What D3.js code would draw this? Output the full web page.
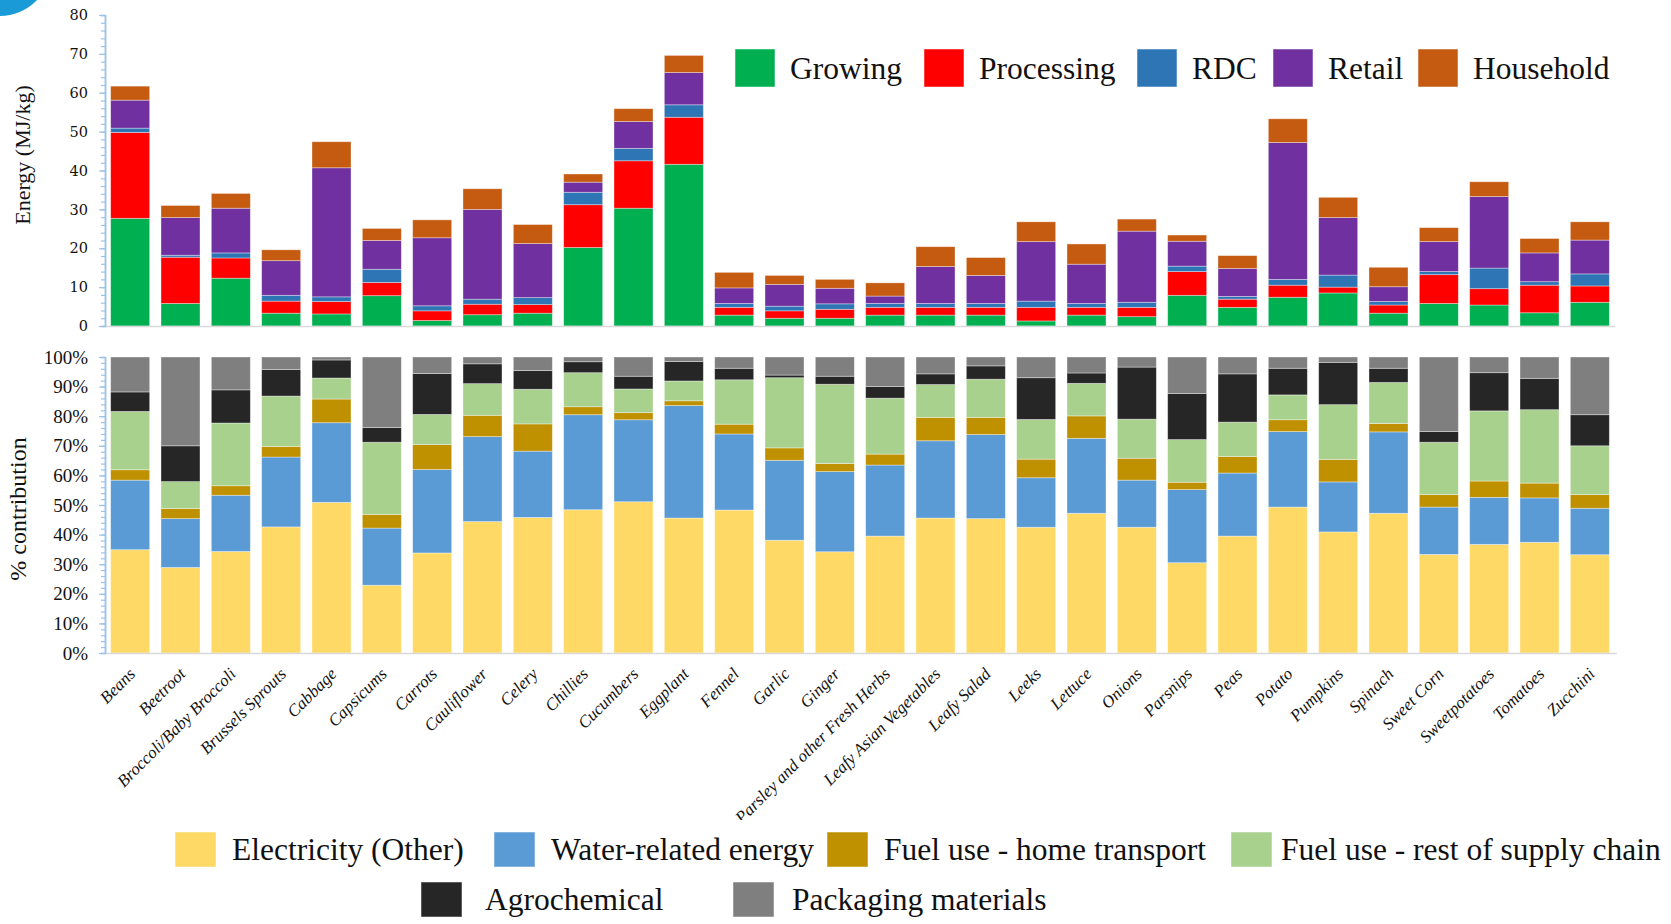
<!DOCTYPE html>
<html>
<head>
<meta charset="utf-8">
<script src="https://cdn.jsdelivr.net/npm/d3@7"></script>
<style>
  html, body { margin: 0; padding: 0; background: #fff; }
  svg { display: block; }
</style>
</head>
<body>
<script>
// ---------------- DATA ----------------
const categories = ["Beans","Beetroot","Broccoli/Baby Broccoli","Brussels Sprouts","Cabbage","Capsicums","Carrots","Cauliflower","Celery","Chillies","Cucumbers","Eggplant","Fennel","Garlic","Ginger","Parsley and other Fresh Herbs","Leafy Asian Vegetables","Leafy Salad","Leeks","Lettuce","Onions","Parsnips","Peas","Potato","Pumpkins","Spinach","Sweet Corn","Sweetpotatoes","Tomatoes","Zucchini"];

// Energy (MJ/kg) by supply-chain stage
const stageNames = ["Growing","Processing","RDC","Retail","Household"];
const growing    = [27.7, 5.8,12.3, 3.3, 3.1, 7.8, 1.4, 2.9, 3.3,20.2,30.3,41.6, 2.8, 2.0, 2.0, 2.8, 2.8, 2.8, 1.3, 2.8, 2.4, 7.9, 4.8, 7.4, 8.5, 3.3, 5.8, 5.4, 3.4, 6.1];
const processing = [22.1,11.9, 5.2, 3.1, 3.2, 3.4, 2.5, 2.7, 2.2,11.0,12.2,12.1, 2.0, 1.9, 2.3, 2.0, 2.0, 2.0, 3.5, 2.0, 2.4, 6.1, 2.1, 3.1, 1.5, 2.1, 7.4, 4.2, 7.1, 4.2];
const rdc        = [ 1.1, 0.5, 1.3, 1.5, 1.2, 3.4, 1.3, 1.3, 1.8, 3.2, 3.2, 3.2, 1.0, 1.2, 1.4, 1.0, 1.0, 1.0, 1.6, 1.0, 1.3, 1.4, 0.7, 1.5, 3.1, 0.9, 0.8, 5.3, 0.9, 3.1];
const retail     = [ 7.2, 9.7,11.5, 8.9,33.2, 7.4,17.5,23.1,13.9, 2.6, 6.9, 8.3, 4.0, 5.6, 4.0, 1.9, 9.5, 7.2,15.3,10.1,18.3, 6.4, 7.2,35.2,14.8, 3.8, 7.7,18.4, 7.4, 8.7];
const household  = [ 3.6, 3.1, 3.8, 2.8, 6.7, 3.1, 4.6, 5.3, 4.9, 2.1, 3.3, 4.4, 4.0, 2.3, 2.3, 3.4, 5.1, 4.6, 5.1, 5.2, 3.1, 1.6, 3.3, 6.1, 5.2, 5.0, 3.6, 3.8, 3.7, 4.7];

// % contribution by energy source
const sourceNames = ["Electricity (Other)","Water-related energy","Fuel use - home transport","Fuel use - rest of supply chain","Agrochemical","Packaging materials"];
const electricity = [34.9,28.9,34.3,42.6,50.9,22.9,33.8,44.4,45.8,48.4,51.1,45.6,48.3,38.1,34.2,39.5,45.6,45.4,42.5,47.2,42.5,30.5,39.5,49.3,40.9,47.2,33.3,36.7,37.4,33.2];
const water       = [23.5,16.5,19.0,23.6,26.9,19.3,28.2,28.7,22.4,32.1,27.7,38.0,25.7,27.0,27.1,24.0,26.1,28.4,16.7,25.3,15.9,24.7,21.3,25.5,16.9,27.5,16.0,15.9,15.0,15.7];
const fuelHome    = [ 3.5, 3.4, 3.2, 3.6, 8.0, 4.6, 8.4, 7.2, 9.2, 2.7, 2.4, 1.6, 3.3, 4.2, 2.7, 3.7, 7.9, 5.8, 6.3, 7.6, 7.4, 2.5, 5.6, 4.0, 7.6, 2.8, 4.2, 5.5, 5.0, 4.6];
const fuelRest    = [19.7, 9.1,21.2,17.0, 7.1,24.4,10.2,10.7,11.7,11.5, 8.0, 6.7,15.0,23.7,26.8,18.9,11.1,12.9,13.4,11.0,13.2,14.4,11.6, 8.4,18.5,13.9,17.7,23.7,24.8,16.5];
const agro        = [ 6.6,12.1,11.2, 9.0, 6.1, 5.0,13.8, 6.7, 6.3, 3.7, 4.3, 6.6, 3.9, 0.9, 2.7, 3.9, 3.6, 4.5,14.1, 3.5,17.6,15.6,16.3, 9.0,14.3, 4.8, 3.6,12.9,10.6,10.5];
const packaging   = [11.8,30.0,11.1, 4.2, 1.0,23.8, 5.6, 2.3, 4.6, 1.6, 6.5, 1.5, 3.8, 6.1, 6.5,10.0, 5.7, 3.0, 7.0, 5.4, 3.4,12.3, 5.7, 3.8, 1.8, 3.8,25.2, 5.3, 7.2,19.5];

const energyTicks = [0,10,20,30,40,50,60,70,80];
const pctTicks = [0,10,20,30,40,50,60,70,80,90,100];

// ---------------- STYLE ----------------
const stageColors  = ["#00b050","#ff0000","#2e75b6","#7030a0","#c55a11"];
const sourceColors = ["#ffd966","#5b9bd5","#bf9000","#a9d18e","#262626","#7f7f7f"];
const W = 1671, H = 924;
const serif = "'Liberation Serif','Times New Roman',serif";
const axisBlue = "#9dc3e6";
const baseGray = "#d9d9d9";

const svg = d3.select("body").append("svg").attr("width", W).attr("height", H);

// decorative teal corner (slide artefact)
svg.append("circle").attr("cx", 0).attr("cy", -35).attr("r", 51).attr("fill", "#1a9bd7");

const x = d3.scaleBand().domain(categories).range([105, 1615]).paddingInner(0.225).paddingOuter(0.1125);

// ---------------- TOP CHART ----------------
const yTop = d3.scaleLinear().domain([0, 80]).range([326, 15]);
const topRows = categories.map((c, i) => ({cat: c, Growing: growing[i], Processing: processing[i], RDC: rdc[i], Retail: retail[i], Household: household[i]}));
const topStack = d3.stack().keys(stageNames)(topRows);

const gTop = svg.append("g");
gTop.selectAll("g.series").data(topStack).join("g")
  .attr("fill", (d, i) => stageColors[i])
  .selectAll("rect").data(d => d).join("rect")
  .attr("x", d => x(d.data.cat))
  .attr("width", x.bandwidth())
  .attr("y", d => yTop(d[1]))
  .attr("height", d => yTop(d[0]) - yTop(d[1]))
  .attr("stroke", "#ffffff").attr("stroke-opacity", 0.45).attr("stroke-width", 0.8);

// baseline
svg.append("line").attr("x1", 105).attr("x2", 1615).attr("y1", yTop(0) + 0.5).attr("y2", yTop(0) + 0.5)
  .attr("stroke", baseGray).attr("stroke-width", 1.5);

function styleAxis(g) {
  g.select(".domain").attr("stroke", axisBlue).attr("stroke-width", 1.5);
  g.selectAll(".tick line").attr("stroke", axisBlue).attr("stroke-width", 1.2);
}
// minor ticks
const topMinor = svg.append("g").attr("transform", "translate(105,0)")
  .call(d3.axisLeft(yTop).tickValues(d3.range(0, 81, 2)).tickSize(4).tickFormat(""));
styleAxis(topMinor);
const topMajor = svg.append("g").attr("transform", "translate(105,0)")
  .call(d3.axisLeft(yTop).tickValues(energyTicks).tickSize(6).tickPadding(11).tickSizeOuter(0));
styleAxis(topMajor);
topMajor.selectAll(".tick text").attr("font-family", "'DejaVu Serif',serif").attr("font-size", 14.5).attr("fill", "#111");

svg.append("text").attr("transform", "translate(30,155) rotate(-90)")
  .attr("text-anchor", "middle").attr("font-family", serif).attr("font-size", 22).attr("fill", "#111")
  .text("Energy (MJ/kg)");

// top legend
const topLegX = [735, 924, 1137, 1273, 1418];
const topLeg = svg.append("g");
stageNames.forEach((n, i) => {
  topLeg.append("rect").attr("x", topLegX[i]).attr("y", 49).attr("width", 40).attr("height", 38)
    .attr("fill", stageColors[i]).attr("stroke", "#fff").attr("stroke-opacity", 0.5);
  topLeg.append("text").attr("x", topLegX[i] + 55).attr("y", 79)
    .attr("font-family", serif).attr("font-size", 31.5).attr("fill", "#111").text(n);
});

// ---------------- BOTTOM CHART ----------------
const yBot = d3.scaleLinear().domain([0, 100]).range([653, 357]);
const botRows = categories.map((c, i) => {
  const r = {cat: c};
  [electricity, water, fuelHome, fuelRest, agro, packaging].forEach((arr, k) => r[sourceNames[k]] = arr[i]);
  return r;
});
const botStack = d3.stack().keys(sourceNames)(botRows);
svg.append("g").selectAll("g.series").data(botStack).join("g")
  .attr("fill", (d, i) => sourceColors[i])
  .selectAll("rect").data(d => d).join("rect")
  .attr("x", d => x(d.data.cat))
  .attr("width", x.bandwidth())
  .attr("y", d => yBot(Math.min(100, d[1])))
  .attr("height", d => yBot(d[0]) - yBot(Math.min(100, d[1])))
  .attr("stroke", "#ffffff").attr("stroke-opacity", 0.45).attr("stroke-width", 0.8);

svg.append("line").attr("x1", 105).attr("x2", 1617).attr("y1", yBot(0) + 0.5).attr("y2", yBot(0) + 0.5)
  .attr("stroke", baseGray).attr("stroke-width", 1.5);

const botMinor = svg.append("g").attr("transform", "translate(105,0)")
  .call(d3.axisLeft(yBot).tickValues(d3.range(0, 101, 2)).tickSize(4).tickFormat(""));
styleAxis(botMinor);
const botMajor = svg.append("g").attr("transform", "translate(105,0)")
  .call(d3.axisLeft(yBot).tickValues(pctTicks).tickSize(6).tickPadding(11).tickSizeOuter(0).tickFormat(d => d + "%"));
styleAxis(botMajor);
botMajor.selectAll(".tick text").attr("font-family", serif).attr("font-size", 19).attr("fill", "#111");

svg.append("text").attr("transform", "translate(26,509) rotate(-90)")
  .attr("text-anchor", "middle").attr("font-family", serif).attr("font-size", 24).attr("fill", "#111")
  .text("% contribution");

// category labels
svg.append("g").selectAll("text").data(categories).join("text")
  .attr("transform", d => `translate(${x(d) + x.bandwidth() / 2 + 6},675) rotate(-45)`)
  .attr("text-anchor", "end")
  .attr("font-family", serif).attr("font-style", "italic").attr("font-size", 17).attr("fill", "#111")
  .text(d => d);

// bottom legend (white panel clips label tails)
svg.append("rect").attr("x", 0).attr("y", 820).attr("width", W).attr("height", H - 820).attr("fill", "#fff");
const botLegSq = [[175, 832], [494, 832], [827, 832], [1231, 832], [421, 882], [733, 882]];
const botLegTextX = [232, 551, 884, 1281, 485, 792];
const botLeg = svg.append("g");
sourceNames.forEach((n, i) => {
  const [lx, ly] = botLegSq[i];
  botLeg.append("rect").attr("x", lx).attr("y", ly).attr("width", 41).attr("height", 35)
    .attr("fill", sourceColors[i]).attr("stroke", "#fff").attr("stroke-opacity", 0.5);
  botLeg.append("text").attr("x", botLegTextX[i]).attr("y", ly + 28)
    .attr("font-family", serif).attr("font-size", 31.5).attr("fill", "#111").text(n);
});
</script>
</body>
</html>
